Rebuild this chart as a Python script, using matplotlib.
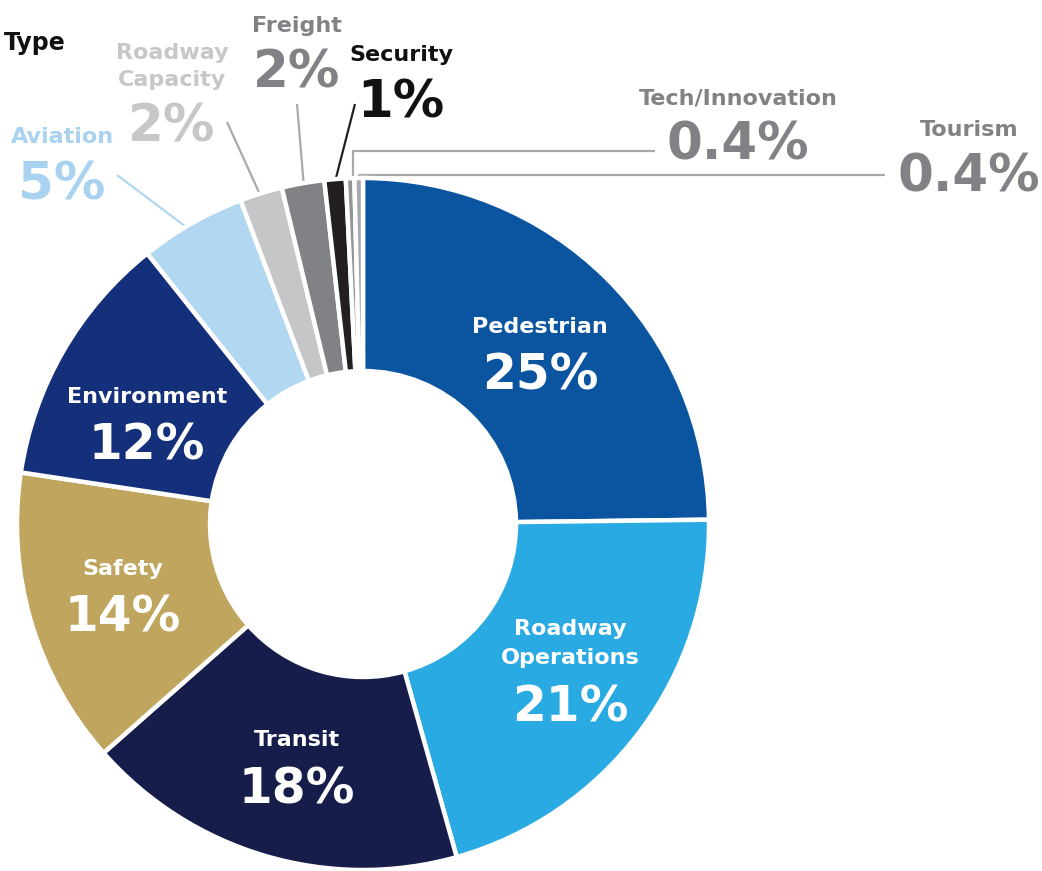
import numpy as np
import matplotlib.pyplot as plt

# project share by type (percent)
categories = ["Pedestrian", "Roadway\nOperations", "Transit", "Safety", "Environment",
              "Aviation", "Roadway\nCapacity", "Freight", "Security",
              "Tech/Innovation", "Tourism"]
shares = [25, 21, 18, 14, 12, 5, 2, 2, 1, 0.4, 0.4]
pct_labels = ["25%", "21%", "18%", "14%", "12%", "5%", "2%", "2%", "1%", "0.4%", "0.4%"]

slice_colors = ["#0B54A0", "#29AAE2", "#161D4A", "#BFA55D", "#14307A",
                "#B2D7F0", "#C5C6C8", "#808285", "#231F20", "#939598", "#A7A9AC"]
label_colors = ["white"] * 5 + ["#A8D2EF", "#C6C7C9", "#808285", "#111111", "#808285", "#808285"]

W, H = 1042, 871
CX, CY = 363, H - 524
R_OUT, R_IN = 346, 153

plt.rcParams['font.family'] = ['DejaVu Sans']

fig = plt.figure(figsize=(W / 100, H / 100), dpi=100)
ax = fig.add_axes([0, 0, 1, 1])

wedges, _ = ax.pie(shares, colors=slice_colors, startangle=90, counterclock=False,
                   center=(CX, CY), radius=R_OUT,
                   wedgeprops=dict(width=R_OUT - R_IN, edgecolor="white", linewidth=3.2))
ax.set_xlim(0, W)
ax.set_ylim(0, H)
ax.set_aspect("equal")
ax.axis("off")


def mid_point(w, r):
    a = np.deg2rad((w.theta1 + w.theta2) / 2)
    return CX + r * np.cos(a), CY + r * np.sin(a)


def put_label(i, x, pct_base, pct_size, gap=57, lsp=28):
    # percentage on its baseline, name lines stacked above it
    lines = categories[i].split("\n")
    ax.text(x, H - pct_base, pct_labels[i], ha="center", va="baseline",
            fontsize=pct_size, fontweight="bold", color=label_colors[i])
    for k, ln in enumerate(reversed(lines)):
        ax.text(x, H - (pct_base - gap - k * lsp), ln, ha="center", va="baseline",
                fontsize=16, fontweight="bold", color=label_colors[i])


# big slices: label inside the ring (x, baseline of the percentage)
inside = {0: (540, 390), 1: (570, 721), 2: (297, 803), 3: (123, 632), 4: (147, 460)}
for i, (x, b) in inside.items():
    put_label(i, x, b, 35, gap=57, lsp=29)

# small slices: label outside with a leader line
outside = {
    5: dict(txt=(62, 199), line=[(117, 175)], r=330),
    6: dict(txt=(172, 142), line=[(227, 122)], r=335),
    7: dict(txt=(297, 88), line=[(297, 104)], r=338),
    8: dict(txt=(401, 117), line=[(355, 104)], r=344),
    9: dict(txt=(738, 160), line=[(655, 151), (None, 151)], r=280),
    10: dict(txt=(969, 192), line=[(885, 175), (None, 175)], r=290),
}
for i, o in outside.items():
    tx, tb = o["txt"]
    put_label(i, tx, tb, 37, gap=56, lsp=27)

    ex, ey = mid_point(wedges[i], o["r"])
    xs, ys = [], []
    for px, py in o["line"]:
        xs.append(ex if px is None else px)
        ys.append(H - py)
    xs.append(ex)
    ys.append(ey)
    line_col = "#231F20" if i == 8 else ("#B2D7F0" if i == 5 else "#A7A9AC")
    ax.plot(xs, ys, color=line_col, lw=1.6, solid_capstyle="butt", zorder=0)

ax.text(66, H - 50, "Type", ha="right", va="baseline", fontsize=17, fontweight="bold",
        color="#111111")

fig.savefig("out.png", dpi=100)
